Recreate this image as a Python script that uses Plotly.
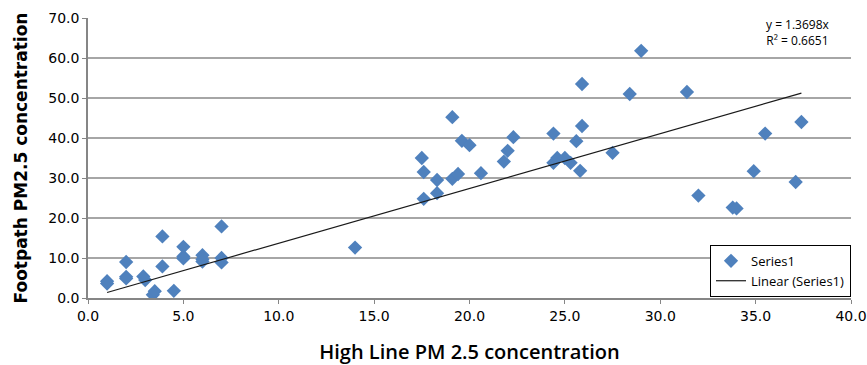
import plotly.graph_objects as go

high_line = [1.0, 1.0, 2.0, 2.0, 2.0, 2.9, 3.0, 3.4, 3.5, 3.9, 3.9, 4.5, 5.0, 5.0, 5.0,
             6.0, 6.0, 6.0, 7.0, 7.0, 7.0, 14.0,
             17.5, 17.6, 17.6, 18.3, 18.3, 19.1, 19.1, 19.4, 19.6, 20.0, 20.6, 21.8, 22.0, 22.3,
             24.4, 24.4, 24.6, 25.0, 25.3, 25.6, 25.9, 25.9, 25.8, 27.5, 28.4, 29.0, 31.4,
             32.0, 33.8, 34.0, 34.9, 35.5, 37.1, 37.4]
footpath = [4.2, 3.6, 9.0, 5.3, 4.9, 5.4, 4.5, 0.8, 1.7, 15.4, 7.9, 1.8, 12.8, 10.4, 9.9,
            10.7, 9.7, 9.1, 17.9, 10.0, 8.9, 12.6,
            35.0, 31.5, 24.8, 29.5, 26.2, 45.2, 29.8, 31.0, 39.3, 38.2, 31.2, 34.1, 36.8, 40.2,
            41.1, 33.8, 35.0, 35.0, 33.8, 39.2, 53.5, 43.0, 31.8, 36.3, 51.0, 61.8, 51.5,
            25.6, 22.6, 22.4, 31.7, 41.1, 29.0, 44.0]
slope = 1.3698
r2 = 0.6651
x_ticks = [0, 5, 10, 15, 20, 25, 30, 35, 40]
y_ticks = [0, 10, 20, 30, 40, 50, 60, 70]

xmin, xmax = min(high_line), max(high_line)

fig = go.Figure()
fig.add_trace(go.Scatter(
    x=high_line, y=footpath, mode="markers", name="Series1",
    marker=dict(symbol="diamond", size=11, color="#4F81BD",
                line=dict(width=0))
))
fig.add_trace(go.Scatter(
    x=[xmin, xmax], y=[slope * xmin, slope * xmax], mode="lines",
    name="Linear (Series1)", line=dict(color="#1a1a1a", width=1.2)
))

fig.add_annotation(
    xref="paper", yref="paper", x=0.9305, y=1.015, xanchor="center", yanchor="top",
    text=f"y = {slope}x<br>R² = {r2}", showarrow=False, align="center",
    font=dict(family="Open Sans, DejaVu Sans", size=12, color="#000")
)

fig.update_layout(
    width=867, height=365,
    margin=dict(l=88, r=16, t=18, b=67),
    paper_bgcolor="white", plot_bgcolor="white",
    showlegend=True,
    legend=dict(
        x=1.0, y=0.004, xanchor="right", yanchor="bottom",
        bordercolor="#000", borderwidth=1, bgcolor="white",
        font=dict(family="Open Sans, DejaVu Sans", size=13, color="#000"),
        itemwidth=30, tracegroupgap=0
    ),
    xaxis=dict(
        range=[0, 40], tickvals=x_ticks,
        ticktext=[f"{v:.1f}" for v in x_ticks],
        showgrid=False, zeroline=False, automargin=False,
        showline=True, linecolor="#868686", linewidth=1.5,
        ticks="outside", ticklen=4, tickcolor="#868686",
        ticklabeloverflow="allow",
        tickfont=dict(family="DejaVu Sans", size=14, color="#000"),
        title=dict(text="High Line PM 2.5 concentration",
                   font=dict(family="Open Sans", size=20, weight=600, color="#000"),
                   standoff=22),
    ),
    yaxis=dict(
        range=[0, 70], tickvals=y_ticks,
        ticktext=[f"{v:.1f}" for v in y_ticks],
        showgrid=True, gridcolor="#a6a6a6", gridwidth=1.5,
        zeroline=False, automargin=False,
        showline=True, linecolor="#868686", linewidth=1.5,
        ticks="outside", ticklen=4, tickcolor="#868686",
        tickfont=dict(family="DejaVu Sans", size=14, color="#000"),
        title=dict(text="<b>Footpath PM2.5 concentration</b>",
                   font=dict(family="DejaVu Sans", size=17, color="#000"),
                   standoff=16),
    ),
)

fig.write_html("out.html")
